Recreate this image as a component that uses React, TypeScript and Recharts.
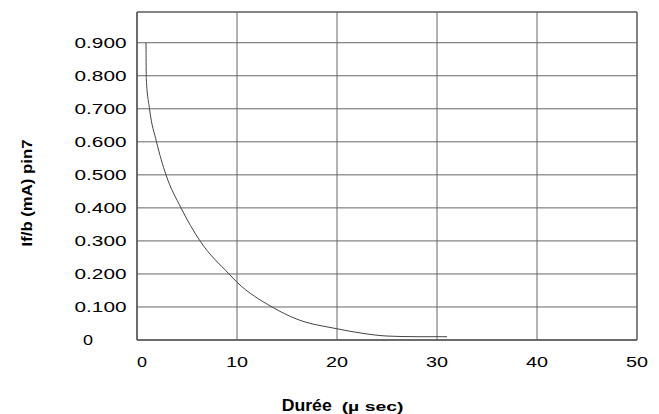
import React from "react";
import { LineChart, Line, XAxis, YAxis, CartesianGrid, ReferenceArea } from "recharts";

const durations = [0.9, 0.93, 1.25, 1.95, 2.9, 4.4, 6.3, 9.2, 10, 13.5, 16, 20, 22.6, 25, 28, 31];
const currents = [0.9, 0.79, 0.7, 0.6, 0.5, 0.4, 0.3, 0.2, 0.175, 0.1, 0.063, 0.034, 0.02, 0.012, 0.01, 0.01];
const xTicks = [0, 10, 20, 30, 40, 50];
const yTicks = [0, 0.1, 0.2, 0.3, 0.4, 0.5, 0.6, 0.7, 0.8, 0.9];
const yTop = 0.993;

const data = durations.map((d, i) => ({ x: d, y: currents[i] }));

const FONT = "'Liberation Sans', Arial, sans-serif";

const YTick = (props: any) => {
  const { y, payload } = props;
  const v = payload.value as number;
  if (v === 0) {
    return (
      <text x={88} y={y + 5} textAnchor="middle" fontFamily={FONT} fontSize={15} fill="#000" textLength={10} lengthAdjust="spacingAndGlyphs">
        0
      </text>
    );
  }
  return (
    <text x={126.5} y={y + 5} textAnchor="end" fontFamily={FONT} fontSize={15} fill="#000" textLength={52} lengthAdjust="spacingAndGlyphs">
      {v.toFixed(3)}
    </text>
  );
};

const XTick = (props: any) => {
  const { x, payload } = props;
  const v = payload.value as number;
  const label = String(v);
  const w = label.length === 1 ? 10 : 22;
  const cx = v === 0 ? x + 5 : x;
  return (
    <text x={cx} y={366.5} textAnchor="middle" fontFamily={FONT} fontSize={15} fill="#000" textLength={w} lengthAdjust="spacingAndGlyphs">
      {label}
    </text>
  );
};

export default function App() {
  return (
    <div style={{ position: "absolute", left: 0, top: 0, width: 659, height: 414, background: "#fff" }}>
      <LineChart width={659} height={414} data={data} margin={{ top: 12, right: 22, bottom: 0, left: 0 }}>
        <CartesianGrid stroke="#666" strokeWidth={1} horizontal vertical />
        <XAxis
          type="number"
          dataKey="x"
          domain={[0, 50]}
          ticks={xTicks}
          height={74}
          axisLine={{ stroke: "#555" }}
          tickLine={false}
          tick={<XTick />}
          allowDataOverflow
        />
        <YAxis
          type="number"
          domain={[0, yTop]}
          ticks={yTicks}
          width={137}
          axisLine={{ stroke: "#555" }}
          tickLine={false}
          tick={<YTick />}
          allowDataOverflow
        />
        <ReferenceArea x1={0} x2={50} y1={0} y2={yTop} fill="none" stroke="#555" strokeWidth={1} ifOverflow="visible" />
        <Line
          type="monotone"
          dataKey="y"
          stroke="#444"
          strokeWidth={1}
          dot={false}
          isAnimationActive={false}
        />
      </LineChart>
      <svg width={659} height={414} style={{ position: "absolute", left: 0, top: 0, pointerEvents: "none" }}>
        <text
          transform="translate(32,193) rotate(-90)"
          textAnchor="middle"
          fontFamily={FONT}
          fontWeight="bold"
          fontSize={14}
          fill="#000"
          textLength={107}
          lengthAdjust="spacingAndGlyphs"
        >
          If/b (mA) pin7
        </text>
        <text x={281.7} y={410.5} fontFamily={FONT} fontWeight="bold" fontSize={17} fill="#000" textLength={50} lengthAdjust="spacingAndGlyphs">
          Durée
        </text>
        <text x={341.7} y={410.5} fontFamily={FONT} fontWeight="bold" fontSize={12} fill="#000" textLength={61.7} lengthAdjust="spacingAndGlyphs">
          (µ sec)
        </text>
      </svg>
    </div>
  );
}
